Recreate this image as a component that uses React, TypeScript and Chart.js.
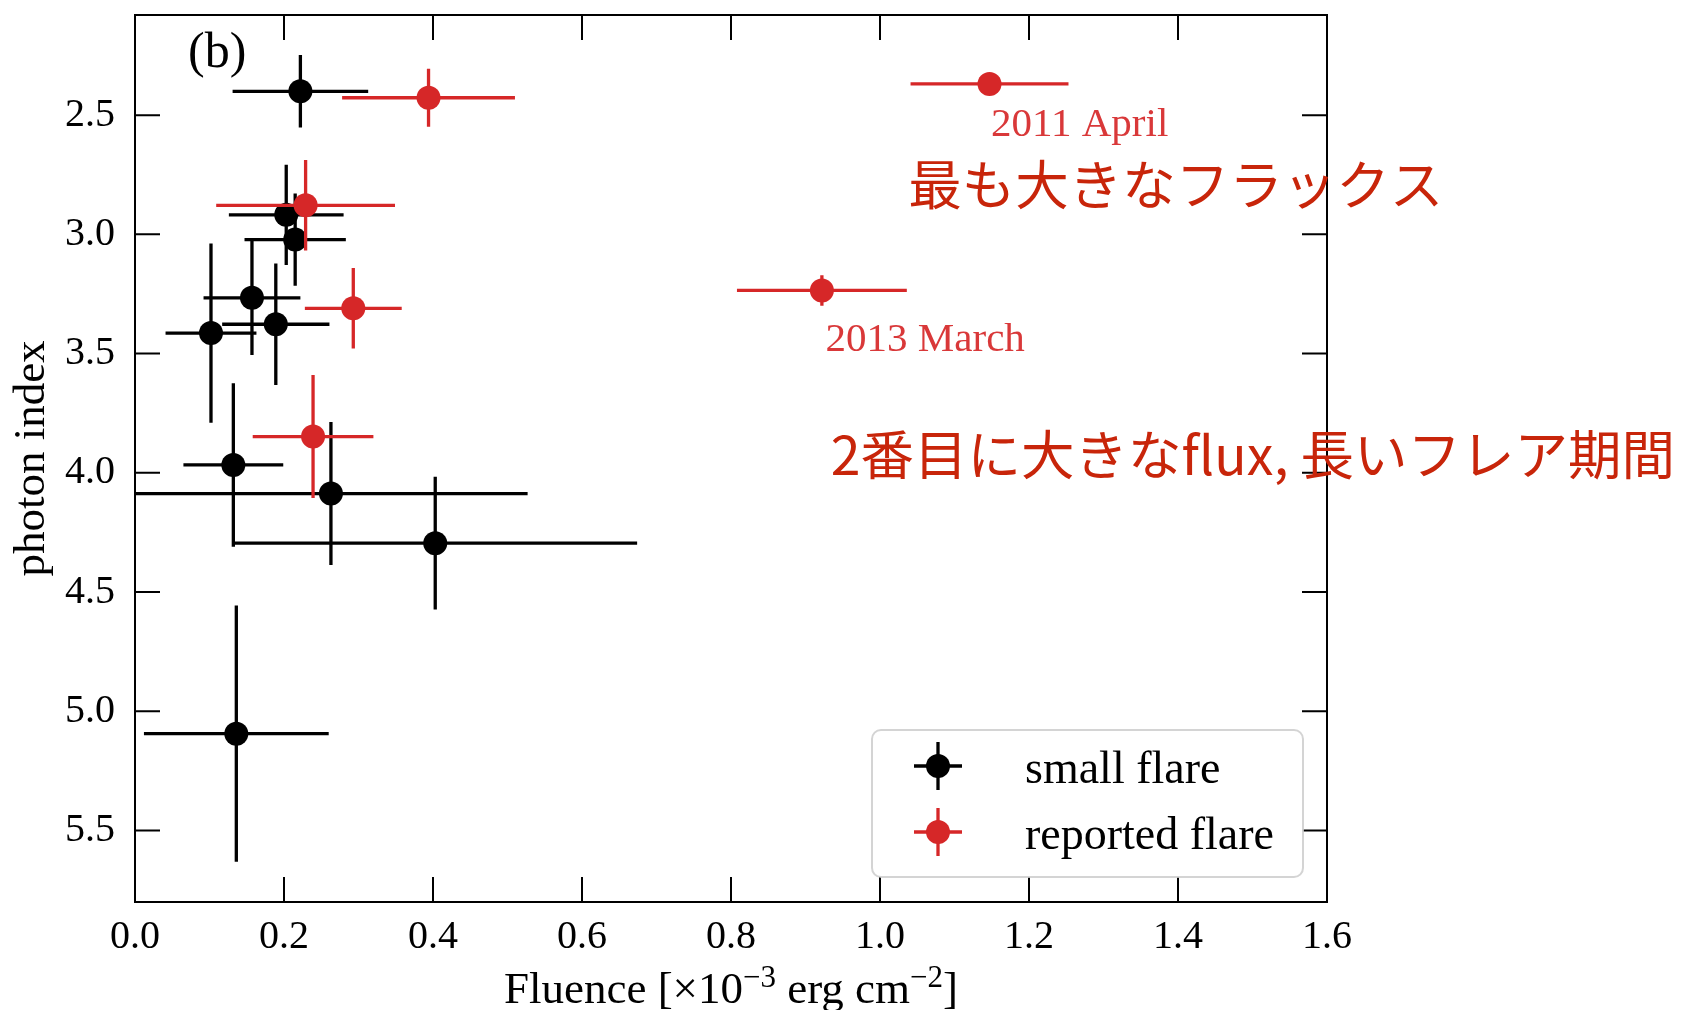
import React, { useEffect, useRef } from 'react';
import { Chart, registerables } from 'chart.js';

Chart.register(...registerables);

// ---- data ----
const xTicks = [0, 0.2, 0.4, 0.6, 0.8, 1.0, 1.2, 1.4, 1.6];
const yTicks = [2.5, 3.0, 3.5, 4.0, 4.5, 5.0, 5.5];

const smallX = [0.222, 0.203, 0.215, 0.157, 0.189, 0.102, 0.132, 0.263, 0.403, 0.136];
const smallXErr = [0.091, 0.077, 0.068, 0.065, 0.072, 0.061, 0.067, 0.264, 0.271, 0.124];
const smallY = [2.4, 2.918, 3.022, 3.266, 3.377, 3.414, 3.967, 4.087, 4.295, 5.094];
const smallYErr = [0.152, 0.21, 0.193, 0.24, 0.255, 0.376, 0.343, 0.3, 0.278, 0.537];

const reportedX = [0.394, 0.229, 0.293, 0.239, 1.147, 0.922];
const reportedXErr = [0.116, 0.12, 0.065, 0.081, 0.106, 0.114];
const reportedY = [2.427, 2.878, 3.31, 3.848, 2.369, 3.235];
const reportedYErr = [0.122, 0.19, 0.169, 0.258, 0.02, 0.064];

const seriesLabels = ['small flare', 'reported flare'];
const seriesColors = ['#000000', '#d62728'];

const dateLabels = ['2011 April', '2013 March'];
const dateLabelX = [1.149, 0.927];
const dateLabelY = [2.586, 3.488];

const noteTexts = ['最も大きなフラックス', '2番目に大きなflux, 長いフレア期間'];
const noteX = [1.038, 0.934];
const noteY = [2.792, 3.925];

const panelLabel = '(b)';
const yTitle = 'photon index';

const SERIF = "'Liberation Serif', 'Times New Roman', serif";
const CJK = "'Noto Sans CJK JP', 'Noto Sans', sans-serif";

function toPoints(xs: number[], xe: number[], ys: number[], ye: number[]) {
  return xs.map((x, i) => ({ x, y: ys[i], xErr: xe[i], yErr: ye[i] }));
}

const errorBarPlugin = {
  id: 'errorBars',
  beforeDatasetDraw(chart: any, args: any) {
    const ds = chart.data.datasets[args.index];
    const { ctx, chartArea } = chart;
    const xs = chart.scales.x;
    const ys = chart.scales.y;
    ctx.save();
    ctx.beginPath();
    ctx.rect(chartArea.left, chartArea.top, chartArea.right - chartArea.left, chartArea.bottom - chartArea.top);
    ctx.clip();
    ctx.strokeStyle = ds.backgroundColor;
    ctx.lineWidth = 3.3;
    ctx.lineCap = 'butt';
    ds.data.forEach((p: any) => {
      const px = xs.getPixelForValue(p.x);
      const py = ys.getPixelForValue(p.y);
      ctx.beginPath();
      ctx.moveTo(xs.getPixelForValue(p.x - p.xErr), py);
      ctx.lineTo(xs.getPixelForValue(p.x + p.xErr), py);
      ctx.moveTo(px, ys.getPixelForValue(p.y - p.yErr));
      ctx.lineTo(px, ys.getPixelForValue(p.y + p.yErr));
      ctx.stroke();
    });
    ctx.restore();
  },
};

function drawErrMarker(ctx: CanvasRenderingContext2D, cx: number, cy: number, color: string) {
  ctx.save();
  ctx.strokeStyle = color;
  ctx.fillStyle = color;
  ctx.lineWidth = 3.3;
  ctx.beginPath();
  ctx.moveTo(cx - 24, cy);
  ctx.lineTo(cx + 24, cy);
  ctx.moveTo(cx, cy - 24);
  ctx.lineTo(cx, cy + 24);
  ctx.stroke();
  ctx.beginPath();
  ctx.arc(cx, cy, 12, 0, Math.PI * 2);
  ctx.fill();
  ctx.restore();
}

const decorPlugin = {
  id: 'decor',
  afterDraw(chart: any) {
    const { ctx, chartArea } = chart;
    const xs = chart.scales.x;
    const ys = chart.scales.y;
    const { left, right, top, bottom } = chartArea;
    ctx.save();

    // frame
    ctx.strokeStyle = '#000';
    ctx.lineWidth = 2;
    ctx.strokeRect(left, top, right - left, bottom - top);

    // inward ticks on all sides
    ctx.lineWidth = 2;
    ctx.beginPath();
    xTicks.forEach((v) => {
      const px = xs.getPixelForValue(v);
      ctx.moveTo(px, bottom);
      ctx.lineTo(px, bottom - 25);
      ctx.moveTo(px, top);
      ctx.lineTo(px, top + 25);
    });
    yTicks.forEach((v) => {
      const py = ys.getPixelForValue(v);
      ctx.moveTo(left, py);
      ctx.lineTo(left + 25, py);
      ctx.moveTo(right, py);
      ctx.lineTo(right - 25, py);
    });
    ctx.stroke();

    // panel label
    ctx.fillStyle = '#000';
    ctx.font = `50px ${SERIF}`;
    ctx.textAlign = 'left';
    ctx.textBaseline = 'alphabetic';
    ctx.fillText(panelLabel, left + 53, top + 52);

    // date labels
    ctx.fillStyle = 'rgba(214,39,40,0.92)';
    ctx.font = `41px ${SERIF}`;
    dateLabels.forEach((t, i) => {
      ctx.fillText(t, xs.getPixelForValue(dateLabelX[i]), ys.getPixelForValue(dateLabelY[i]));
    });

    // x title with superscripts
    const parts: [string, boolean][] = [
      ['Fluence [\u00d710', false],
      ['\u22123', true],
      [' erg cm', false],
      ['\u22122', true],
      [']', false],
    ];
    const mainFont = `45px ${SERIF}`;
    const supFont = `31px ${SERIF}`;
    let total = 0;
    parts.forEach(([t, sup]) => {
      ctx.font = sup ? supFont : mainFont;
      total += ctx.measureText(t).width;
    });
    let cx = (left + right) / 2 - total / 2;
    const base = bottom + 101;
    ctx.fillStyle = '#000';
    parts.forEach(([t, sup]) => {
      ctx.font = sup ? supFont : mainFont;
      ctx.fillText(t, cx, sup ? base - 16 : base);
      cx += ctx.measureText(t).width;
    });

    // legend
    const lw = 431;
    const lh = 147;
    const lx = right - 24 - lw;
    const ly = bottom - 25 - lh;
    ctx.beginPath();
    ctx.roundRect(lx, ly, lw, lh, 9);
    ctx.fillStyle = 'rgba(255,255,255,0.8)';
    ctx.fill();
    ctx.strokeStyle = 'rgba(204,204,204,0.85)';
    ctx.lineWidth = 2;
    ctx.stroke();
    ctx.font = `46px ${SERIF}`;
    ctx.textAlign = 'left';
    ctx.textBaseline = 'alphabetic';
    seriesLabels.forEach((lab, i) => {
      const cy = ly + 36 + i * 66;
      drawErrMarker(ctx, lx + 66, cy, seriesColors[i]);
      ctx.fillStyle = '#000';
      ctx.fillText(lab, lx + 153, cy + 17);
    });

    // Japanese notes
    ctx.fillStyle = '#c8250a';
    ctx.font = `53.5px ${CJK}`;
    ctx.textBaseline = 'middle';
    noteTexts.forEach((t, i) => {
      ctx.fillText(t, xs.getPixelForValue(noteX[i]), ys.getPixelForValue(noteY[i]));
    });

    ctx.restore();
  },
};

export default function App() {
  const ref = useRef<HTMLCanvasElement>(null);

  useEffect(() => {
    if (!ref.current) return;
    const chart = new Chart(ref.current, {
      type: 'scatter',
      data: {
        datasets: [
          {
            label: seriesLabels[0],
            data: toPoints(smallX, smallXErr, smallY, smallYErr),
            backgroundColor: seriesColors[0],
            borderColor: seriesColors[0],
            pointRadius: 12,
            pointBorderWidth: 0,
            pointHoverRadius: 12,
            order: 2,
          } as any,
          {
            label: seriesLabels[1],
            data: toPoints(reportedX, reportedXErr, reportedY, reportedYErr),
            backgroundColor: seriesColors[1],
            borderColor: seriesColors[1],
            pointRadius: 12,
            pointBorderWidth: 0,
            pointHoverRadius: 12,
            order: 1,
          } as any,
        ],
      },
      options: {
        animation: false,
        responsive: false,
        events: [],
        layout: { padding: { top: 15, right: 354, bottom: 0, left: 0 } },
        plugins: {
          legend: { display: false },
          tooltip: { enabled: false },
        },
        scales: {
          x: {
            type: 'linear',
            min: 0,
            max: 1.6,
            grid: { display: false, drawTicks: false },
            border: { display: false },
            afterBuildTicks: (s: any) => {
              s.ticks = xTicks.map((v) => ({ value: v }));
            },
            afterFit: (s: any) => {
              s.height = 108;
              s.paddingLeft = 0;
              s.paddingRight = 0;
            },
            ticks: {
              autoSkip: false,
              maxRotation: 0,
              padding: 11,
              color: '#000',
              font: { family: SERIF, size: 40 },
              callback: (v: any) => Number(v).toFixed(1),
            },
          },
          y: {
            type: 'linear',
            min: 2.08,
            max: 5.8,
            reverse: true,
            grid: { display: false, drawTicks: false },
            border: { display: false },
            afterBuildTicks: (s: any) => {
              s.ticks = yTicks.map((v) => ({ value: v }));
            },
            afterFit: (s: any) => {
              s.width = 135;
              s.paddingTop = 0;
              s.paddingBottom = 0;
            },
            title: {
              display: true,
              text: yTitle,
              color: '#000',
              font: { family: SERIF, size: 45 },
              padding: { top: 5, bottom: 0 },
            },
            ticks: {
              autoSkip: false,
              padding: 20,
              color: '#000',
              font: { family: SERIF, size: 40 },
              callback: (v: any) => Number(v).toFixed(1),
            },
          },
        },
      } as any,
      plugins: [errorBarPlugin, decorPlugin],
    });
    return () => chart.destroy();
  }, []);

  return (
    <div style={{ position: 'fixed', left: 0, top: 0, width: 1681, height: 1010, background: '#fff' }}>
      <canvas ref={ref} width={1681} height={1010} style={{ display: 'block', width: 1681, height: 1010 }} />
    </div>
  );
}
